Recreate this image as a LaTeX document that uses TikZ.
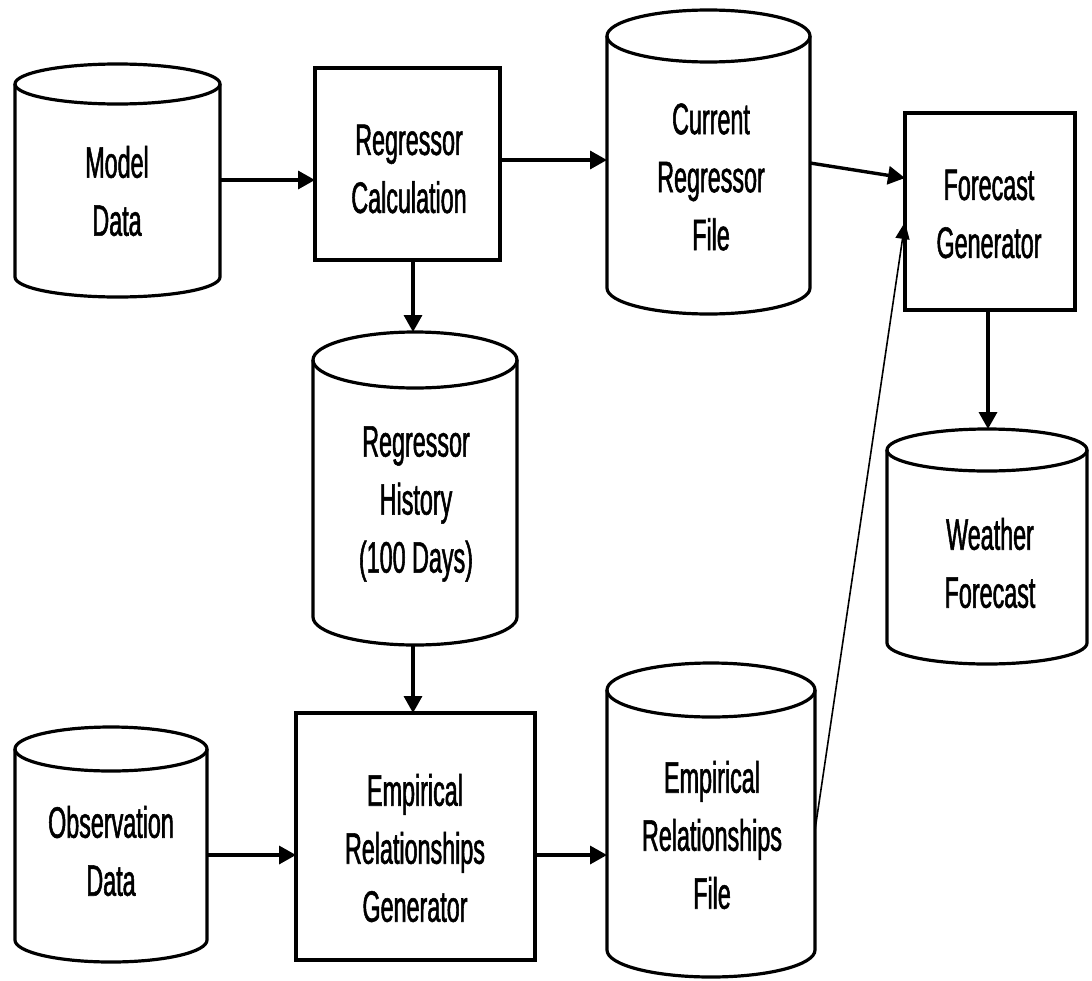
\documentclass[tikz,border=0pt]{standalone}
\usepackage{fontspec}
\setmainfont{Liberation Sans}[FakeStretch=0.53,FakeBold=1.2]
\usetikzlibrary{arrows.meta}
\tikzset{
  boxnode/.style={draw, line width=3.2pt, inner sep=0pt, outer sep=0pt},
  cylline/.style={line width=3.2pt},
  lbl/.style={align=center, font=\fontsize{44}{58}\selectfont, inner sep=0pt},
  flow/.style={line width=3.4pt, -{Triangle[length=17pt,width=18pt]}},
  thinflow/.style={line width=1.6pt, -{Triangle[length=17pt,width=14pt]}},
}
% #1 name, #2 x left, #3 x right, #4 y of top ellipse centre, #5 y of bottom ellipse centre, #6 y radius
\newcommand\mycyl[6]{%
  \pgfmathsetmacro\cyA{(#2+#3)/2}%
  \pgfmathsetmacro\cyR{(#3-#2)/2}%
  \pgfmathsetmacro\cyW{#3-#2}%
  \pgfmathsetmacro\cyH{#5-#4+2*#6}%
  \pgfmathsetmacro\cyM{-(#4-#6+#5+#6)/2}%
  \draw[cylline] (#2,-#4) -- (#2,-#5) arc[start angle=180,end angle=360,x radius=\cyR pt,y radius=#6 pt] -- (#3,-#4);
  \draw[cylline] (\cyA,-#4) ellipse[x radius=\cyR pt, y radius=#6 pt];
  \node[minimum width=\cyW pt, minimum height=\cyH pt, inner sep=0pt, outer sep=0pt] (#1) at (\cyA,\cyM) {};
}
\begin{document}
\begin{tikzpicture}[x=1pt,y=1pt]
\useasboundingbox (0,0) rectangle (1092,-980);
% cylinders
\mycyl{md}{15}{220}{84}{277}{20}
\mycyl{crf}{607}{810}{36}{288}{26}
\mycyl{rh}{313}{517}{360}{617}{28}
\mycyl{wf}{887}{1087}{450}{643}{21}
\mycyl{od}{15}{207}{749}{940}{22}
\mycyl{ef}{607}{815}{690}{950}{27}
% boxes
\node[boxnode, minimum width=185pt, minimum height=192pt] (rc) at (407.5,-164) {};
\node[boxnode, minimum width=170pt, minimum height=197pt] (fg) at (990,-211.5) {};
\node[boxnode, minimum width=239pt, minimum height=247pt] (eg) at (415.5,-836.5) {};
% labels
\node[lbl] (mdt) at (117,-191) {Model\\Data};
\node[lbl] (rct) at (409,-169) {Regressor\\Calculation};
\node[lbl] (crft) at (711,-177) {Current\\Regressor\\File};
\node[lbl] (fgt) at (989,-214) {Forecast\\Generator};
\node[lbl] (rht) at (416,-504) {Regressor\\History\\(100 Days)};
\node[lbl] (wft) at (990,-563) {Weather\\Forecast};
\node[lbl] (odt) at (111,-851) {Observation\\Data};
\node[lbl] (egt) at (415,-848) {Empirical\\Relationships\\Generator};
\node[lbl] (eft) at (712,-835) {Empirical\\Relationships\\File};
% connectors
\draw[flow] (md.east |- 0,-180) -- (rc.west |- 0,-180);
\draw[flow] (rc.east |- 0,-160) -- (crf.west |- 0,-160);
\draw[flow] (crf.east |- 0,-163) -- (fg.west |- 0,-178);
\draw[flow] (rc.south -| 413,0) -- (rh.north -| 413,0);
\draw[flow] (rh.south -| 413,0) -- (eg.north -| 413,0);
\draw[flow] (od.east |- 0,-855) -- (eg.west |- 0,-855);
\draw[flow] (eg.east |- 0,-855) -- (ef.west |- 0,-855);
\draw[thinflow] (ef.east |- 0,-830) -- (fg.west |- 0,-222);
\draw[flow] (fg.south -| 988,0) -- (wf.north -| 988,0);
\end{tikzpicture}
\end{document}
